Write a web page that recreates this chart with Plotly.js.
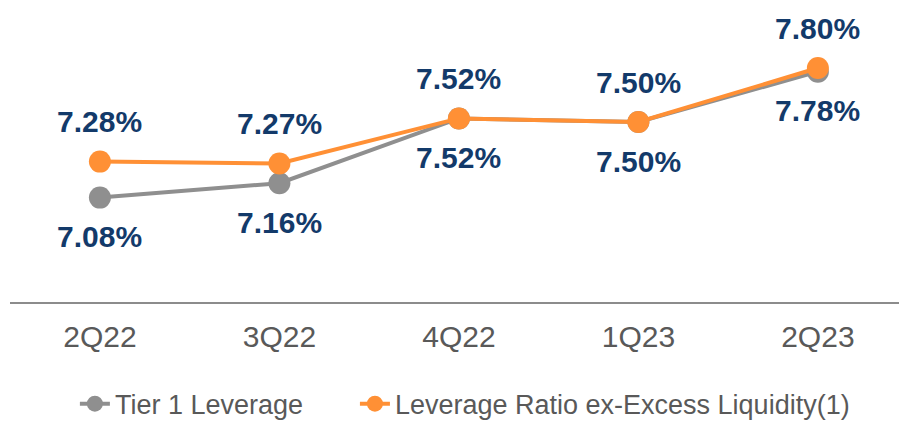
<!DOCTYPE html>
<html>
<head>
<meta charset="utf-8">
<script src="https://cdn.plot.ly/plotly-3.0.1.min.js"></script>
<style>html,body{margin:0;padding:0;background:#fff;}#chart{width:899px;height:421px;}</style>
</head>
<body>
<div id="chart"></div>
<script>
const quarters = ["2Q22", "3Q22", "4Q22", "1Q23", "2Q23"];
const tier1Leverage = [7.08, 7.16, 7.52, 7.50, 7.78];
const leverageExExcess = [7.28, 7.27, 7.52, 7.50, 7.80];
const seriesNames = ["Tier 1 Leverage", "Leverage Ratio ex-Excess Liquidity(1)"];

const grayC = "#8f8f8f";
const orangeC = "#ff9035";
const navy = "#133a6a";
const fam = "Liberation Sans, Arial, sans-serif";

const traces = [
  {
    x: quarters, y: tier1Leverage, name: seriesNames[0], type: "scatter", mode: "lines+markers",
    line: {color: grayC, width: 4}, marker: {color: grayC, size: 22}, cliponaxis: false, legend: "legend"
  },
  {
    x: quarters, y: leverageExExcess, name: seriesNames[1], type: "scatter", mode: "lines+markers",
    line: {color: orangeC, width: 4}, marker: {color: orangeC, size: 22}, cliponaxis: false, legend: "legend2"
  }
];

const fmt = v => v.toFixed(2) + "%";
const annotations = [];
quarters.forEach((q, i) => {
  annotations.push({x: q, y: leverageExExcess[i], text: fmt(leverageExExcess[i]), showarrow: false,
    yshift: 40, yanchor: "middle", font: {family: fam, size: 30, color: navy, weight: "bold"}});
  annotations.push({x: q, y: tier1Leverage[i], text: fmt(tier1Leverage[i]), showarrow: false,
    yshift: -39, yanchor: "middle", font: {family: fam, size: 30, color: navy, weight: "bold"}});
});

const legFont = {family: fam, size: 27, color: "#595959"};
const layout = {
  width: 899, height: 421,
  margin: {l: 10, r: 0, t: 0, b: 119, autoexpand: false},
  paper_bgcolor: "#fff", plot_bgcolor: "#fff",
  showlegend: true,
  legend: {orientation: "h", x: 0.073, xanchor: "left", y: -0.338, yanchor: "middle", font: legFont},
  legend2: {orientation: "h", x: 0.388, xanchor: "left", y: -0.338, yanchor: "middle", font: legFont},
  xaxis: {type: "category", range: [-0.501, 4.452], showline: true, linecolor: "#8c8c8c", linewidth: 2,
    showgrid: false, zeroline: false, ticks: "", fixedrange: true, ticklabelstandoff: 7,
    tickfont: {family: fam, size: 30, color: "#595959"}},
  yaxis: {range: [6.5, 8.178], visible: false, showgrid: false, zeroline: false, fixedrange: true},
  annotations: annotations,
  hovermode: false
};

Plotly.newPlot("chart", traces, layout, {displayModeBar: false, staticPlot: true});
</script>
</body>
</html>
